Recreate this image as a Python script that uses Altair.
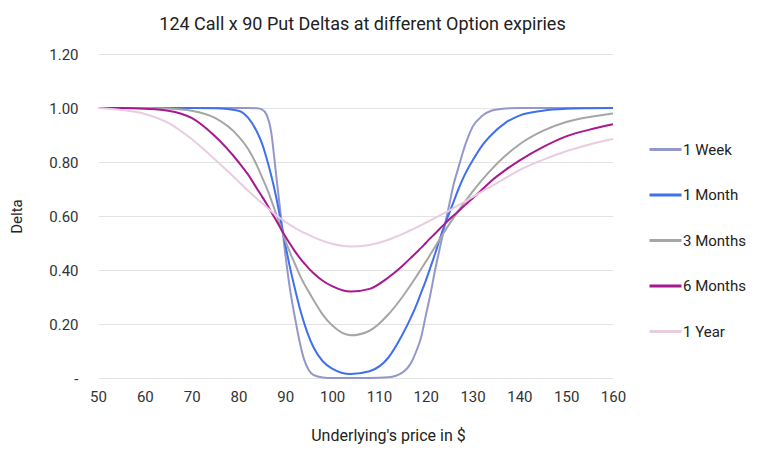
import altair as alt
import pandas as pd

# Underlying price (x) sample points
x_price = [50, 55, 60, 65, 70, 75, 80, 82, 84, 85, 86, 87, 88, 89, 90, 91, 92, 93, 94, 95, 96, 98,
           100, 104, 108, 112, 115, 117, 118, 119, 120, 121, 122, 123, 124, 125, 126, 127, 128, 129,
           130, 132, 134, 137, 140, 145, 150, 155, 160]

delta_1w = [1.0, 1.0, 1.0, 1.0, 1.0, 1.0, 1.0, 1.0, 0.999, 0.995, 0.975, 0.91, 0.76, 0.61, 0.46, 0.33,
            0.23, 0.14, 0.07, 0.03, 0.012, 0.002, 0.0, 0.0, 0.0, 0.003, 0.02, 0.06, 0.10, 0.15, 0.23,
            0.31, 0.40, 0.48, 0.56, 0.64, 0.72, 0.78, 0.84, 0.89, 0.93, 0.97, 0.99, 0.998, 1.0, 1.0,
            1.0, 1.0, 1.0]

delta_1m = [1.0, 1.0, 1.0, 1.0, 1.0, 0.999, 0.99, 0.965, 0.91, 0.87, 0.815, 0.75, 0.675, 0.585, 0.495,
            0.41, 0.335, 0.265, 0.205, 0.155, 0.115, 0.062, 0.035, 0.015, 0.025, 0.075, 0.16, 0.23,
            0.27, 0.315, 0.36, 0.41, 0.46, 0.515, 0.565, 0.61, 0.655, 0.70, 0.74, 0.775, 0.805, 0.86,
            0.90, 0.945, 0.972, 0.99, 0.997, 0.999, 1.0]

delta_3m = [1.0, 1.0, 1.0, 0.998, 0.99, 0.963, 0.895, 0.85, 0.785, 0.745, 0.705, 0.66, 0.61, 0.56, 0.51,
            0.465, 0.425, 0.385, 0.35, 0.32, 0.29, 0.235, 0.195, 0.158, 0.175, 0.235, 0.30, 0.35, 0.376,
            0.403, 0.43, 0.458, 0.486, 0.514, 0.542, 0.569, 0.595, 0.62, 0.644, 0.667, 0.69, 0.733, 0.772,
            0.823, 0.865, 0.915, 0.948, 0.967, 0.98]

delta_6m = [1.0, 1.0, 0.997, 0.99, 0.963, 0.895, 0.80, 0.755, 0.70, 0.673, 0.645, 0.615, 0.585, 0.555,
            0.525, 0.497, 0.471, 0.447, 0.426, 0.406, 0.389, 0.36, 0.34, 0.32, 0.33, 0.372, 0.415, 0.448,
            0.465, 0.482, 0.50, 0.518, 0.535, 0.553, 0.57, 0.587, 0.603, 0.618, 0.634, 0.65, 0.665,
            0.697, 0.73, 0.77, 0.805, 0.855, 0.895, 0.92, 0.94]

delta_1y = [1.0, 0.993, 0.978, 0.945, 0.885, 0.809, 0.728, 0.695, 0.663, 0.648, 0.633, 0.618, 0.604,
            0.591, 0.578, 0.567, 0.557, 0.547, 0.538, 0.53, 0.522, 0.508, 0.497, 0.487, 0.493, 0.512,
            0.533, 0.549, 0.557, 0.566, 0.575, 0.584, 0.593, 0.602, 0.611, 0.62, 0.63, 0.64, 0.65, 0.66,
            0.67, 0.69, 0.71, 0.74, 0.77, 0.808, 0.84, 0.865, 0.885]

series_names = ["1 Week", "1 Month", "3 Months", "6 Months", "1 Year"]
series_colors = ["#9497c9", "#4070ee", "#a6a6a6", "#a8188f", "#e8cce0"]
x_ticks = [50, 60, 70, 80, 90, 100, 110, 120, 130, 140, 150, 160]
y_ticks = [0, 0.2, 0.4, 0.6, 0.8, 1.0, 1.2]

rows = []
for name, vals in zip(series_names, [delta_1w, delta_1m, delta_3m, delta_6m, delta_1y]):
    for xv, yv in zip(x_price, vals):
        rows.append({"price": xv, "delta": yv, "series": name})
df = pd.DataFrame(rows)

FONT = "Roboto"

chart = alt.Chart(df).mark_line(interpolate="monotone", strokeWidth=2).encode(
    x=alt.X("price:Q",
            scale=alt.Scale(domain=[50, 160], nice=False, zero=False),
            axis=alt.Axis(values=x_ticks, title="Underlying's price in $", grid=False,
                          domain=False, ticks=False, labelPadding=11, labelFontSize=15,
                          labelFlush=False,
                          labelColor="#333333", labelFont=FONT, titleFont=FONT,
                          titleFontSize=16, titleFontWeight="normal", titleColor="#222222",
                          titleX=290, titleY=62, titleBaseline="alphabetic")),
    y=alt.Y("delta:Q",
            scale=alt.Scale(domain=[0, 1.2], nice=False),
            axis=alt.Axis(values=y_ticks,
                          labelExpr="datum.value == 0 ? '-\u00a0\u00a0' : format(datum.value, '.2f')",
                          title="Delta", grid=True, gridColor="#e3e3e3", domain=False, ticks=False,
                          labelPadding=20, labelFontSize=15, labelColor="#333333", labelFont=FONT,
                          titleFont=FONT, titleFontSize=15, titleFontWeight="normal",
                          titleColor="#222222", titleX=-82, titleY=162, titleBaseline="middle")),
    color=alt.Color("series:N",
                    scale=alt.Scale(domain=series_names, range=series_colors),
                    legend=alt.Legend(title=None, orient="none", legendX=550, legendY=78,
                                      symbolType="stroke", symbolSize=1024, symbolStrokeWidth=3,
                                      labelFontSize=15, labelFont=FONT, labelColor="#222222",
                                      labelOffset=0, rowPadding=19.5, padding=0)),
).properties(
    width=515,
    height=324,
    title=alt.TitleParams("124 Call x 90 Put Deltas at different Option expiries",
                          font=FONT, fontSize=18, fontWeight="normal", color="#212121",
                          anchor="middle", dx=7, dy=18, offset=17, baseline="alphabetic"),
    autosize=alt.AutoSizeParams(type="none"),
    padding={"left": 90, "top": 46, "right": 147, "bottom": 75},
).configure_view(stroke=None)

chart.save("out.html", embed_options={"renderer": "svg", "actions": False})
